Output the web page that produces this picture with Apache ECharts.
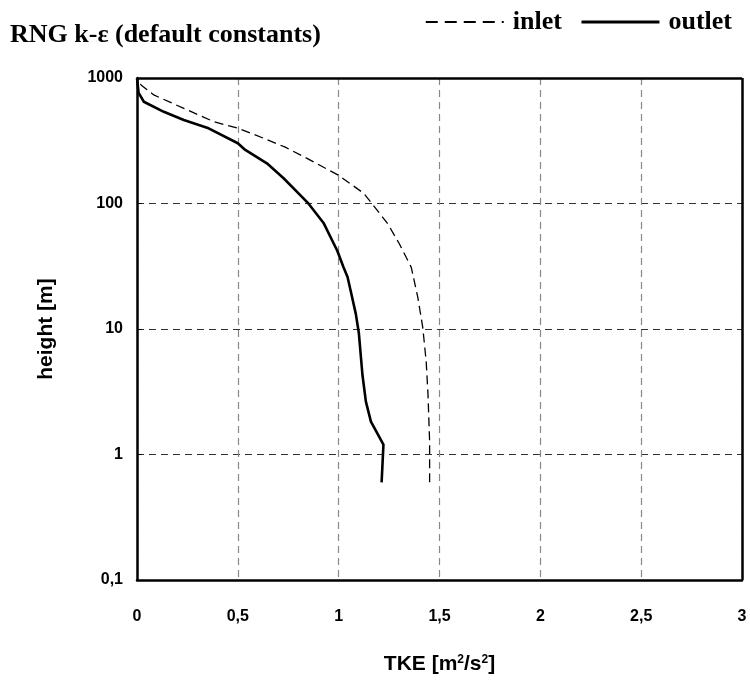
<!DOCTYPE html>
<html><head><meta charset="utf-8">
<script src="https://cdn.jsdelivr.net/npm/echarts@6/dist/echarts.min.js"></script>
<style>html,body{margin:0;padding:0;background:#fff}#c{width:750px;height:682px}</style>
</head><body><div id="c"></div>
<script>
const title = 'RNG k-ε (default constants)';
const xTicks = ['0','0,5','1','1,5','2','2,5','3'];
const yTicks = ['0,1','1','10','100','1000'];
const inletTKE =    [1.451,1.451,1.443,1.434,1.417,1.392,1.360,1.300,1.243,1.165,1.123,0.996,0.843,0.735,0.628,0.500,0.380,0.232,0.083,0.020,0.000];
const inletHeight = [0.6,  1.26, 3.0,  5.5,  10.3, 18,   31,   48,   69,   100,  121,  169,  229,  281,  331,  398,  449,  573,  733,  880,  1000];
const outletTKE =    [1.213,1.222,1.160,1.135,1.118,1.100,1.085,1.060,1.044,1.024,0.993,0.925,0.850,0.818,0.727,0.644,0.537,0.500,0.355,0.232,0.133,0.034,0.008,0.000];
const outletHeight = [0.6,  1.2,  1.83, 2.64, 4.3,  9.3,  13.2, 20,   26,   31,   42,   70,   100,  113,  159,  209,  267,  302,  397,  463,  538,  647,  760,  1000];

const pair = (xs, ys) => xs.map((x, i) => [x, ys[i]]);
const chart = echarts.init(document.getElementById('c'), null, {renderer: 'canvas'});
const sans = 'Liberation Sans, Arial, sans-serif';
const serif = 'Liberation Serif, Times New Roman, serif';
const labelFont = {fontFamily: sans, fontWeight: 'bold', fontSize: 16, color: '#000'};
const nameFont = {fontFamily: sans, fontWeight: 'bold', fontSize: 21, color: '#000'};
chart.setOption({
  animation: false,
  backgroundColor: '#fff',
  title: {text: title, left: 5, top: 17, textStyle: {fontFamily: serif, fontWeight: 'bold', fontSize: 26, color: '#000'}},
  legend: {
    right: 13, top: 4, itemWidth: 78, itemHeight: 20, itemGap: 18,
    itemStyle: {opacity: 0},
    textStyle: {fontFamily: serif, fontWeight: 'bold', fontSize: 26, color: '#000', padding: [0, 0, 0, 4]},
    data: [
      {name: 'inlet', lineStyle: {width: 2, type: [12, 7]}},
      {name: 'outlet', lineStyle: {width: 3.2}}
    ]
  },
  grid: {left: 137, right: 8, top: 78, bottom: 102, containLabel: false, show: false},
  xAxis: {
    type: 'value', min: 0, max: 3, interval: 0.5,
    name: 'TKE [m{sup|2}/s{sup|2}]', nameLocation: 'middle', nameGap: 74,
    nameTextStyle: Object.assign({}, nameFont, {rich: {sup: {fontFamily: sans, fontWeight: 'bold', fontSize: 12, color: '#000', verticalAlign: 'top', padding: [0, 0, 8, 0]}}}),
    axisLine: {show: true, onZero: false, lineStyle: {color: '#000', width: 2.5}},
    axisTick: {show: false},
    axisLabel: Object.assign({}, labelFont, {margin: 29, formatter: v => xTicks[Math.round(v * 2)]}),
    splitLine: {show: true, lineStyle: {color: '#888', type: [7, 5], width: 1.2}}
  },
  yAxis: {
    type: 'log', logBase: 10, min: 0.1, max: 1000,
    name: 'height [m]', nameLocation: 'middle', nameGap: 80, nameRotate: 90,
    nameTextStyle: nameFont,
    axisLine: {show: true, lineStyle: {color: '#000', width: 2.5}},
    axisTick: {show: true, inside: true, length: 5, lineStyle: {color: '#000', width: 1}},
    minorTick: {show: false},
    axisLabel: Object.assign({}, labelFont, {margin: 14, formatter: v => yTicks[Math.round(Math.log10(v)) + 1]}),
    splitLine: {show: true, lineStyle: {color: '#333', type: [7, 5], width: 1.2}}
  },
  series: [
    {name: 'inlet', type: 'line', symbol: 'none', data: pair(inletTKE, inletHeight),
     lineStyle: {color: '#000', width: 1.3, type: [9, 5]}, itemStyle: {color: '#000'}},
    {name: 'outlet', type: 'line', symbol: 'none', data: pair(outletTKE, outletHeight),
     lineStyle: {color: '#000', width: 2.6, type: 'solid'}, itemStyle: {color: '#000'}},
    {type: 'line', data: [], markLine: {silent: true, symbol: 'none', label: {show: false},
      lineStyle: {color: '#000', width: 2.5, type: 'solid'},
      data: [[{coord: [0, 1000]}, {coord: [3, 1000]}], [{coord: [3, 1000]}, {coord: [3, 0.1]}]]}}
  ]
});
</script></body></html>
